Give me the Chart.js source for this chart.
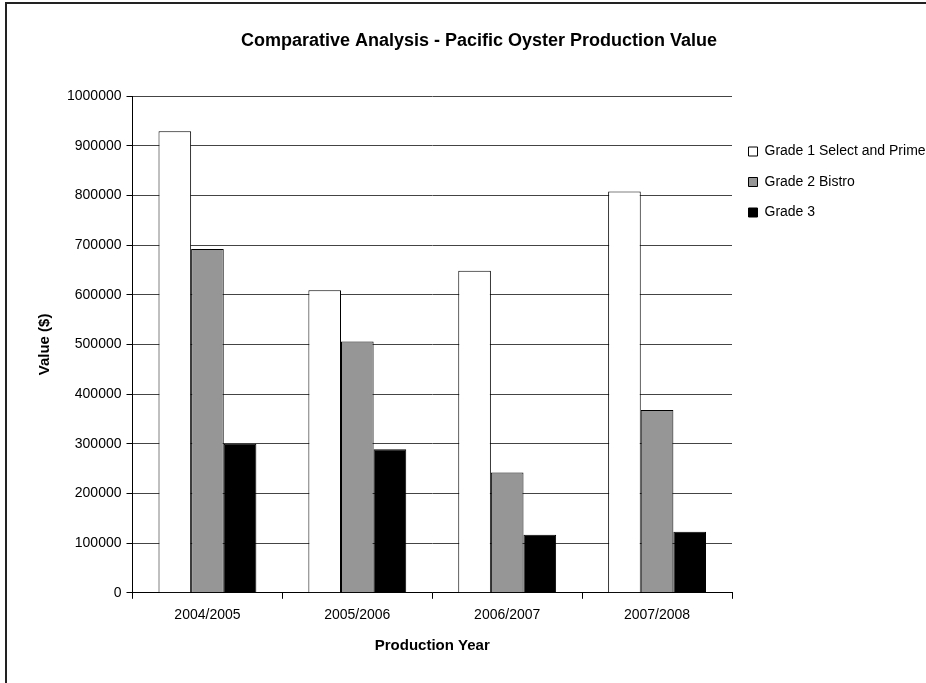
<!DOCTYPE html>
<html>
<head>
<meta charset="utf-8">
<script src="https://cdn.jsdelivr.net/npm/chart.js@4.4.1/dist/chart.umd.min.js"></script>
<style>
  html, body { margin: 0; padding: 0; background: #fff; overflow: hidden; }
  #wrap { position: relative; width: 926px; height: 683px; }
  #frame {
    position: absolute; left: 5px; top: 2px; width: 1000px; height: 1000px;
    border-left: 2px solid #222; border-top: 2px solid #222; pointer-events: none;
  }
  canvas { position: absolute; left: 0; top: 0; }
</style>
</head>
<body>
<div id="wrap">
  <canvas id="grafico" width="926" height="683"></canvas>
  <div id="frame"></div>
</div>
<script>
// --- Datos ---
const anios = ["2004/2005", "2005/2006", "2006/2007", "2007/2008"];
const grado1 = [929000, 609000, 648000, 808000];
const grado2 = [692000, 506000, 242000, 368000];
const grado3 = [300000, 289000, 117000, 123000];

const fuente = "'Liberation Sans', Arial, sans-serif";

// --- Gráfico ---
const ctx = document.getElementById("grafico").getContext("2d");
new Chart(ctx, {
  type: "bar",
  data: {
    labels: anios,
    datasets: [
      { label: "Grade 1 Select and Prime", data: grado1, backgroundColor: "#ffffff" },
      { label: "Grade 2 Bistro", data: grado2, backgroundColor: "#969696" },
      { label: "Grade 3", data: grado3, backgroundColor: "#000000" }
    ]
  },
  options: {
    responsive: false,
    animation: false,
    datasets: {
      bar: {
        borderColor: "#000",
        borderWidth: 1,
        categoryPercentage: 0.653,
        barPercentage: 1
      }
    },
    layout: { padding: { top: 0, left: 32, right: 0, bottom: 28.4 } },
    plugins: {
      title: {
        display: true,
        text: "Comparative Analysis - Pacific Oyster Production Value",
        color: "#000",
        font: { family: fuente, size: 18, weight: "bold" },
        padding: { top: 30, bottom: 44.4 }
      },
      legend: {
        position: "right",
        align: "start",
        fullSize: false,
        maxWidth: 194,
        // titulo vacio solo para bajar los items
        title: { display: true, text: " ", font: { size: 10 }, padding: { top: 20, bottom: 0 } },
        labels: {
          color: "#000",
          font: { family: fuente, size: 14 },
          boxWidth: 9,
          boxHeight: 9,
          padding: 16.5
        }
      },
      tooltip: { enabled: false }
    },
    scales: {
      x: {
        grid: {
          offset: true,
          drawOnChartArea: true,
          color: c => c.index === 4 ? "#888" : "rgba(0,0,0,0)",
          tickColor: "#000",
          tickLength: 6
        },
        border: { color: "#000" },
        ticks: { color: "#000", font: { family: fuente, size: 14 }, padding: 8 },
        title: {
          display: true,
          text: "Production Year",
          color: "#000",
          font: { family: fuente, size: 15, weight: "bold" },
          padding: { top: 5, bottom: 0 }
        }
      },
      y: {
        min: 0,
        max: 1000000,
        grid: { color: "#444", tickColor: "#000", tickLength: 6 },
        border: { color: "#000" },
        ticks: {
          stepSize: 100000,
          color: "#000",
          font: { family: fuente, size: 14 },
          padding: 5,
          callback: v => String(v)
        },
        title: {
          display: true,
          text: "Value ($)",
          color: "#000",
          font: { family: fuente, size: 15, weight: "bold" },
          padding: { top: 4, bottom: 8 }
        }
      }
    }
  }
});
</script>
</body>
</html>
